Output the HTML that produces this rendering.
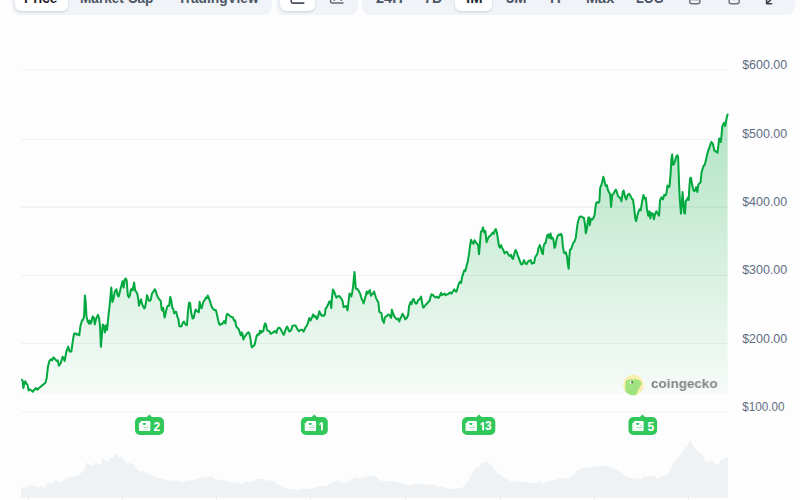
<!DOCTYPE html>
<html><head><meta charset="utf-8"><style>
*{margin:0;padding:0;box-sizing:border-box}
html,body{width:800px;height:500px;overflow:hidden;background:#fdfdfd;font-family:"Liberation Sans",sans-serif}
.grp{position:absolute;top:-30px;background:#f0f3f7;border-radius:8px}
.btn{position:absolute;top:-30px;background:#fff;border-radius:6px;box-shadow:0 1px 2px rgba(16,24,40,0.10),0 1px 3px rgba(16,24,40,0.06)}
.t{position:absolute;transform-origin:0 0;font-weight:700;font-size:14px;line-height:14px;white-space:nowrap;color:#4b5565}
.t.a{color:#1f2430}
svg{position:absolute;left:0;top:0}
.cg{position:absolute;left:650.9px;top:376px;font-weight:700;font-size:13.6px;line-height:16px;color:#818387;will-change:transform;transform-origin:0 0;transform:scaleX(0.99);white-space:nowrap}
</style></head><body>
<div class="grp" style="left:12px;width:260px;height:44.7px"></div>
<div class="btn" style="left:15px;width:52.5px;height:41.2px"></div>
<div class="grp" style="left:275.9px;width:82.1px;height:44.7px"></div>
<div class="btn" style="left:279.6px;width:35.4px;height:41.4px"></div>
<div class="grp" style="left:362.2px;width:432.8px;height:44.6px"></div>
<div class="btn" style="left:455.25px;width:36.75px;height:41.4px"></div>

<div class="t a" style="left:23.77px;top:-9px;transform:scaleX(0.9773)">Price</div>
<div class="t" style="left:80.13px;top:-9px;transform:scaleX(0.9716)">Market Cap</div>
<div class="t" style="left:177.56px;top:-9px;transform:scaleX(0.9808)">TradingView</div>
<div class="t" style="left:376.00px;top:-9px;transform:scaleX(1.0400)">24H</div>
<div class="t" style="left:424.06px;top:-9px;transform:scaleX(1.0200)">7D</div>
<div class="t a" style="left:466.14px;top:-9px;transform:scaleX(1.0643)">lM</div>
<div class="t" style="left:505.70px;top:-9px;transform:scaleX(1.0579)">3M</div>
<div class="t" style="left:550.18px;top:-9px;transform:scaleX(1.0222)">lY</div>
<div class="t" style="left:585.71px;top:-9px;transform:scaleX(1.0385)">Max</div>
<div class="t" style="left:635.89px;top:-9px;transform:scaleX(0.9103)">LOG</div>


<svg width="800" height="500" viewBox="0 0 800 500">
<defs>
<linearGradient id="fg" x1="0" y1="0" x2="0" y2="1">
<stop offset="0" stop-color="#00a83e" stop-opacity="0.30"/>
<stop offset="1" stop-color="#00a83e" stop-opacity="0.025"/>
</linearGradient>
</defs>
<!-- toolbar icons -->
<path d="M291.2 -6 V1.6 Q291.2 3.1 292.7 3.1 H303.8" fill="none" stroke="#4a5062" stroke-width="1.6" stroke-linecap="round"/>
<path d="M330.6 -6 V1.6 Q330.6 3.1 332.1 3.1 H343" fill="none" stroke="#646b7a" stroke-width="1.5" stroke-linecap="round"/>
<path d="M334.3 -3 V1 M341.2 -3 V1" fill="none" stroke="#646b7a" stroke-width="1.3"/>
<rect x="689.7" y="-8" width="10.2" height="11.8" rx="2.3" fill="none" stroke="#6a7284" stroke-width="1.45"/>
<path d="M690.5 0 H699" stroke="#6a7284" stroke-width="0.9" stroke-opacity="0.7"/>
<rect x="729.1" y="-8" width="10.1" height="11.8" rx="2.3" fill="none" stroke="#6a7284" stroke-width="1.45"/>
<path d="M733.8 -4 V0.6" stroke="#8a7f8a" stroke-width="0.9" stroke-opacity="0.7"/>
<path d="M766.6 -2 V3.8 H771.6 M767 3.4 L772.5 -2" fill="none" stroke="#3d4452" stroke-width="1.6" stroke-linecap="round" stroke-linejoin="round"/>

<line x1="21" x2="728" y1="70.00" y2="70.00" stroke="#edf5f0" stroke-width="1"/><line x1="21" x2="728" y1="206.80" y2="206.80" stroke="#edf5f0" stroke-width="1"/><line x1="21" x2="728" y1="411.90" y2="411.90" stroke="#edf5f0" stroke-width="1"/><line x1="21" x2="728" y1="139.5" y2="139.5" stroke="#eff1f5" stroke-width="1"/><line x1="21" x2="728" y1="207.5" y2="207.5" stroke="#eff1f5" stroke-width="1"/><line x1="21" x2="728" y1="275.5" y2="275.5" stroke="#eff1f5" stroke-width="1"/><line x1="21" x2="728" y1="343.5" y2="343.5" stroke="#eff1f5" stroke-width="1"/>
<path d="M21 497.8 L21 487.7 L22 487.7 L22 487.6 L23 487.6 L23 488.1 L24 488.1 L24 487.6 L25 487.6 L25 487.6 L26 487.6 L26 486.8 L27 486.8 L27 486.0 L28 486.0 L28 486.0 L29 486.0 L29 485.1 L30 485.1 L30 485.3 L31 485.3 L31 485.0 L32 485.0 L32 485.2 L33 485.2 L33 485.8 L34 485.8 L34 486.6 L35 486.6 L35 486.3 L36 486.3 L36 486.7 L37 486.7 L37 487.4 L38 487.4 L38 487.6 L39 487.6 L39 487.0 L40 487.0 L40 486.3 L41 486.3 L41 486.1 L42 486.1 L42 486.3 L43 486.3 L43 487.8 L44 487.8 L44 486.9 L45 486.9 L45 485.9 L46 485.9 L46 484.5 L47 484.5 L47 483.6 L48 483.6 L48 483.9 L49 483.9 L49 483.6 L50 483.6 L50 483.8 L51 483.8 L51 483.7 L52 483.7 L52 483.2 L53 483.2 L53 482.7 L54 482.7 L54 480.4 L55 480.4 L55 480.2 L56 480.2 L56 480.6 L57 480.6 L57 481.2 L58 481.2 L58 480.4 L59 480.4 L59 481.3 L60 481.3 L60 482.2 L61 482.2 L61 482.4 L62 482.4 L62 480.9 L63 480.9 L63 480.4 L64 480.4 L64 479.6 L65 479.6 L65 478.8 L66 478.8 L66 478.8 L67 478.8 L67 478.3 L68 478.3 L68 478.1 L69 478.1 L69 476.9 L70 476.9 L70 475.8 L71 475.8 L71 477.4 L72 477.4 L72 477.0 L73 477.0 L73 477.1 L74 477.1 L74 476.9 L75 476.9 L75 475.8 L76 475.8 L76 475.7 L77 475.7 L77 474.9 L78 474.9 L78 475.1 L79 475.1 L79 474.6 L80 474.6 L80 473.6 L81 473.6 L81 472.9 L82 472.9 L82 471.6 L83 471.6 L83 471.4 L84 471.4 L84 468.6 L85 468.6 L85 464.8 L86 464.8 L86 462.8 L87 462.8 L87 462.8 L88 462.8 L88 464.3 L89 464.3 L89 465.0 L90 465.0 L90 466.2 L91 466.2 L91 465.2 L92 465.2 L92 465.5 L93 465.5 L93 465.1 L94 465.1 L94 462.5 L95 462.5 L95 463.0 L96 463.0 L96 463.3 L97 463.3 L97 464.4 L98 464.4 L98 464.9 L99 464.9 L99 464.5 L100 464.5 L100 464.3 L101 464.3 L101 461.4 L102 461.4 L102 458.7 L103 458.7 L103 458.3 L104 458.3 L104 459.9 L105 459.9 L105 459.9 L106 459.9 L106 460.5 L107 460.5 L107 461.0 L108 461.0 L108 461.7 L109 461.7 L109 459.9 L110 459.9 L110 457.9 L111 457.9 L111 457.4 L112 457.4 L112 457.1 L113 457.1 L113 456.6 L114 456.6 L114 456.0 L115 456.0 L115 454.7 L116 454.7 L116 454.2 L117 454.2 L117 455.1 L118 455.1 L118 457.1 L119 457.1 L119 457.7 L120 457.7 L120 457.0 L121 457.0 L121 456.7 L122 456.7 L122 457.7 L123 457.7 L123 458.7 L124 458.7 L124 460.0 L125 460.0 L125 461.8 L126 461.8 L126 462.4 L127 462.4 L127 462.4 L128 462.4 L128 462.9 L129 462.9 L129 462.9 L130 462.9 L130 463.2 L131 463.2 L131 463.8 L132 463.8 L132 464.1 L133 464.1 L133 464.6 L134 464.6 L134 465.9 L135 465.9 L135 467.4 L136 467.4 L136 468.1 L137 468.1 L137 469.9 L138 469.9 L138 470.7 L139 470.7 L139 471.5 L140 471.5 L140 471.7 L141 471.7 L141 471.1 L142 471.1 L142 471.0 L143 471.0 L143 470.9 L144 470.9 L144 471.9 L145 471.9 L145 471.8 L146 471.8 L146 472.3 L147 472.3 L147 473.0 L148 473.0 L148 473.5 L149 473.5 L149 474.3 L150 474.3 L150 474.7 L151 474.7 L151 475.2 L152 475.2 L152 475.8 L153 475.8 L153 476.2 L154 476.2 L154 476.8 L155 476.8 L155 476.8 L156 476.8 L156 478.0 L157 478.0 L157 478.0 L158 478.0 L158 477.8 L159 477.8 L159 478.1 L160 478.1 L160 478.5 L161 478.5 L161 478.7 L162 478.7 L162 478.7 L163 478.7 L163 479.6 L164 479.6 L164 480.0 L165 480.0 L165 479.7 L166 479.7 L166 479.9 L167 479.9 L167 479.7 L168 479.7 L168 480.0 L169 480.0 L169 480.4 L170 480.4 L170 480.4 L171 480.4 L171 481.1 L172 481.1 L172 480.5 L173 480.5 L173 480.4 L174 480.4 L174 481.4 L175 481.4 L175 481.1 L176 481.1 L176 480.8 L177 480.8 L177 481.3 L178 481.3 L178 480.9 L179 480.9 L179 481.4 L180 481.4 L180 481.9 L181 481.9 L181 482.0 L182 482.0 L182 482.2 L183 482.2 L183 481.8 L184 481.8 L184 481.5 L185 481.5 L185 481.1 L186 481.1 L186 481.5 L187 481.5 L187 481.1 L188 481.1 L188 481.2 L189 481.2 L189 480.6 L190 480.6 L190 480.3 L191 480.3 L191 480.6 L192 480.6 L192 480.5 L193 480.5 L193 480.0 L194 480.0 L194 479.7 L195 479.7 L195 479.5 L196 479.5 L196 479.2 L197 479.2 L197 478.5 L198 478.5 L198 478.7 L199 478.7 L199 478.4 L200 478.4 L200 477.9 L201 477.9 L201 477.8 L202 477.8 L202 477.9 L203 477.9 L203 477.6 L204 477.6 L204 477.7 L205 477.7 L205 477.6 L206 477.6 L206 476.7 L207 476.7 L207 476.8 L208 476.8 L208 476.5 L209 476.5 L209 476.3 L210 476.3 L210 475.8 L211 475.8 L211 476.1 L212 476.1 L212 476.9 L213 476.9 L213 477.7 L214 477.7 L214 478.7 L215 478.7 L215 479.5 L216 479.5 L216 479.7 L217 479.7 L217 479.6 L218 479.6 L218 479.5 L219 479.5 L219 479.9 L220 479.9 L220 480.1 L221 480.1 L221 479.5 L222 479.5 L222 480.1 L223 480.1 L223 480.5 L224 480.5 L224 480.5 L225 480.5 L225 480.7 L226 480.7 L226 480.6 L227 480.6 L227 480.4 L228 480.4 L228 481.2 L229 481.2 L229 481.0 L230 481.0 L230 481.8 L231 481.8 L231 482.3 L232 482.3 L232 482.2 L233 482.2 L233 482.8 L234 482.8 L234 483.5 L235 483.5 L235 482.9 L236 482.9 L236 482.2 L237 482.2 L237 482.3 L238 482.3 L238 482.4 L239 482.4 L239 483.5 L240 483.5 L240 484.0 L241 484.0 L241 483.3 L242 483.3 L242 483.3 L243 483.3 L243 483.2 L244 483.2 L244 482.5 L245 482.5 L245 482.0 L246 482.0 L246 482.0 L247 482.0 L247 481.5 L248 481.5 L248 481.3 L249 481.3 L249 482.1 L250 482.1 L250 481.7 L251 481.7 L251 481.4 L252 481.4 L252 481.7 L253 481.7 L253 481.0 L254 481.0 L254 480.9 L255 480.9 L255 479.8 L256 479.8 L256 478.6 L257 478.6 L257 478.4 L258 478.4 L258 478.4 L259 478.4 L259 478.5 L260 478.5 L260 479.0 L261 479.0 L261 478.9 L262 478.9 L262 479.3 L263 479.3 L263 479.3 L264 479.3 L264 480.2 L265 480.2 L265 479.8 L266 479.8 L266 479.9 L267 479.9 L267 480.2 L268 480.2 L268 480.7 L269 480.7 L269 480.3 L270 480.3 L270 481.0 L271 481.0 L271 480.8 L272 480.8 L272 480.9 L273 480.9 L273 481.4 L274 481.4 L274 481.6 L275 481.6 L275 482.9 L276 482.9 L276 483.7 L277 483.7 L277 484.2 L278 484.2 L278 485.3 L279 485.3 L279 485.0 L280 485.0 L280 485.7 L281 485.7 L281 486.5 L282 486.5 L282 486.8 L283 486.8 L283 487.1 L284 487.1 L284 487.8 L285 487.8 L285 488.3 L286 488.3 L286 488.8 L287 488.8 L287 488.3 L288 488.3 L288 488.8 L289 488.8 L289 488.6 L290 488.6 L290 488.7 L291 488.7 L291 489.2 L292 489.2 L292 489.0 L293 489.0 L293 489.1 L294 489.1 L294 489.3 L295 489.3 L295 489.7 L296 489.7 L296 489.7 L297 489.7 L297 489.9 L298 489.9 L298 489.5 L299 489.5 L299 489.2 L300 489.2 L300 489.1 L301 489.1 L301 488.7 L302 488.7 L302 488.6 L303 488.6 L303 488.5 L304 488.5 L304 489.1 L305 489.1 L305 488.9 L306 488.9 L306 489.2 L307 489.2 L307 489.3 L308 489.3 L308 488.7 L309 488.7 L309 488.8 L310 488.8 L310 488.5 L311 488.5 L311 488.3 L312 488.3 L312 488.0 L313 488.0 L313 488.0 L314 488.0 L314 487.9 L315 487.9 L315 487.2 L316 487.2 L316 486.9 L317 486.9 L317 485.9 L318 485.9 L318 486.1 L319 486.1 L319 486.0 L320 486.0 L320 486.0 L321 486.0 L321 485.2 L322 485.2 L322 486.0 L323 486.0 L323 486.1 L324 486.1 L324 485.7 L325 485.7 L325 486.6 L326 486.6 L326 486.9 L327 486.9 L327 485.7 L328 485.7 L328 485.5 L329 485.5 L329 484.1 L330 484.1 L330 483.5 L331 483.5 L331 483.6 L332 483.6 L332 483.2 L333 483.2 L333 482.3 L334 482.3 L334 481.9 L335 481.9 L335 481.0 L336 481.0 L336 480.5 L337 480.5 L337 480.6 L338 480.6 L338 481.0 L339 481.0 L339 481.7 L340 481.7 L340 481.4 L341 481.4 L341 482.4 L342 482.4 L342 483.1 L343 483.1 L343 483.0 L344 483.0 L344 483.3 L345 483.3 L345 483.3 L346 483.3 L346 482.5 L347 482.5 L347 481.5 L348 481.5 L348 482.0 L349 482.0 L349 481.3 L350 481.3 L350 481.0 L351 481.0 L351 479.5 L352 479.5 L352 479.1 L353 479.1 L353 478.3 L354 478.3 L354 478.5 L355 478.5 L355 477.5 L356 477.5 L356 477.1 L357 477.1 L357 477.4 L358 477.4 L358 477.9 L359 477.9 L359 477.9 L360 477.9 L360 477.5 L361 477.5 L361 477.6 L362 477.6 L362 478.2 L363 478.2 L363 477.5 L364 477.5 L364 477.2 L365 477.2 L365 476.3 L366 476.3 L366 476.2 L367 476.2 L367 476.7 L368 476.7 L368 476.2 L369 476.2 L369 475.3 L370 475.3 L370 475.7 L371 475.7 L371 475.2 L372 475.2 L372 475.6 L373 475.6 L373 475.0 L374 475.0 L374 476.2 L375 476.2 L375 476.1 L376 476.1 L376 477.5 L377 477.5 L377 478.0 L378 478.0 L378 479.1 L379 479.1 L379 480.5 L380 480.5 L380 481.4 L381 481.4 L381 480.7 L382 480.7 L382 480.5 L383 480.5 L383 481.0 L384 481.0 L384 481.1 L385 481.1 L385 481.4 L386 481.4 L386 481.6 L387 481.6 L387 481.3 L388 481.3 L388 481.3 L389 481.3 L389 481.2 L390 481.2 L390 481.1 L391 481.1 L391 481.3 L392 481.3 L392 481.0 L393 481.0 L393 481.6 L394 481.6 L394 481.7 L395 481.7 L395 482.1 L396 482.1 L396 481.9 L397 481.9 L397 482.2 L398 482.2 L398 482.1 L399 482.1 L399 483.0 L400 483.0 L400 483.0 L401 483.0 L401 482.9 L402 482.9 L402 483.5 L403 483.5 L403 484.3 L404 484.3 L404 483.8 L405 483.8 L405 484.8 L406 484.8 L406 484.8 L407 484.8 L407 485.1 L408 485.1 L408 485.6 L409 485.6 L409 485.3 L410 485.3 L410 485.2 L411 485.2 L411 484.8 L412 484.8 L412 484.6 L413 484.6 L413 483.7 L414 483.7 L414 484.3 L415 484.3 L415 484.3 L416 484.3 L416 484.4 L417 484.4 L417 484.3 L418 484.3 L418 484.3 L419 484.3 L419 483.9 L420 483.9 L420 483.8 L421 483.8 L421 483.5 L422 483.5 L422 484.2 L423 484.2 L423 483.9 L424 483.9 L424 484.0 L425 484.0 L425 484.2 L426 484.2 L426 485.1 L427 485.1 L427 485.3 L428 485.3 L428 485.1 L429 485.1 L429 484.7 L430 484.7 L430 484.6 L431 484.6 L431 484.6 L432 484.6 L432 484.9 L433 484.9 L433 484.6 L434 484.6 L434 485.1 L435 485.1 L435 485.3 L436 485.3 L436 486.3 L437 486.3 L437 486.6 L438 486.6 L438 486.3 L439 486.3 L439 486.2 L440 486.2 L440 487.0 L441 487.0 L441 486.5 L442 486.5 L442 486.6 L443 486.6 L443 486.5 L444 486.5 L444 487.3 L445 487.3 L445 487.8 L446 487.8 L446 488.2 L447 488.2 L447 488.2 L448 488.2 L448 488.8 L449 488.8 L449 488.5 L450 488.5 L450 488.9 L451 488.9 L451 488.8 L452 488.8 L452 489.1 L453 489.1 L453 488.6 L454 488.6 L454 488.6 L455 488.6 L455 488.8 L456 488.8 L456 488.6 L457 488.6 L457 488.9 L458 488.9 L458 488.6 L459 488.6 L459 488.5 L460 488.5 L460 488.0 L461 488.0 L461 487.7 L462 487.7 L462 487.5 L463 487.5 L463 486.5 L464 486.5 L464 485.7 L465 485.7 L465 485.1 L466 485.1 L466 482.5 L467 482.5 L467 481.6 L468 481.6 L468 480.3 L469 480.3 L469 477.9 L470 477.9 L470 476.5 L471 476.5 L471 474.4 L472 474.4 L472 472.1 L473 472.1 L473 470.6 L474 470.6 L474 469.4 L475 469.4 L475 467.9 L476 467.9 L476 467.8 L477 467.8 L477 467.4 L478 467.4 L478 467.5 L479 467.5 L479 466.1 L480 466.1 L480 463.8 L481 463.8 L481 462.9 L482 462.9 L482 462.6 L483 462.6 L483 462.4 L484 462.4 L484 462.4 L485 462.4 L485 462.0 L486 462.0 L486 462.1 L487 462.1 L487 462.4 L488 462.4 L488 463.1 L489 463.1 L489 463.4 L490 463.4 L490 464.6 L491 464.6 L491 464.8 L492 464.8 L492 466.1 L493 466.1 L493 468.1 L494 468.1 L494 469.7 L495 469.7 L495 470.5 L496 470.5 L496 471.1 L497 471.1 L497 473.2 L498 473.2 L498 474.0 L499 474.0 L499 474.3 L500 474.3 L500 474.8 L501 474.8 L501 475.4 L502 475.4 L502 475.6 L503 475.6 L503 477.2 L504 477.2 L504 477.6 L505 477.6 L505 478.2 L506 478.2 L506 478.9 L507 478.9 L507 479.6 L508 479.6 L508 479.5 L509 479.5 L509 480.5 L510 480.5 L510 481.2 L511 481.2 L511 481.0 L512 481.0 L512 481.3 L513 481.3 L513 481.8 L514 481.8 L514 482.1 L515 482.1 L515 481.9 L516 481.9 L516 481.6 L517 481.6 L517 481.6 L518 481.6 L518 481.0 L519 481.0 L519 480.9 L520 480.9 L520 481.2 L521 481.2 L521 482.0 L522 482.0 L522 481.9 L523 481.9 L523 482.2 L524 482.2 L524 481.7 L525 481.7 L525 481.6 L526 481.6 L526 481.9 L527 481.9 L527 482.5 L528 482.5 L528 482.8 L529 482.8 L529 483.1 L530 483.1 L530 482.9 L531 482.9 L531 483.4 L532 483.4 L532 483.4 L533 483.4 L533 483.2 L534 483.2 L534 482.6 L535 482.6 L535 483.1 L536 483.1 L536 482.0 L537 482.0 L537 482.5 L538 482.5 L538 482.1 L539 482.1 L539 480.9 L540 480.9 L540 481.4 L541 481.4 L541 482.1 L542 482.1 L542 483.1 L543 483.1 L543 483.9 L544 483.9 L544 482.8 L545 482.8 L545 482.0 L546 482.0 L546 482.3 L547 482.3 L547 481.1 L548 481.1 L548 481.2 L549 481.2 L549 480.5 L550 480.5 L550 480.6 L551 480.6 L551 481.0 L552 481.0 L552 480.3 L553 480.3 L553 481.1 L554 481.1 L554 480.4 L555 480.4 L555 480.0 L556 480.0 L556 479.1 L557 479.1 L557 478.2 L558 478.2 L558 478.7 L559 478.7 L559 478.2 L560 478.2 L560 477.9 L561 477.9 L561 478.1 L562 478.1 L562 478.9 L563 478.9 L563 478.9 L564 478.9 L564 478.6 L565 478.6 L565 478.2 L566 478.2 L566 478.2 L567 478.2 L567 478.0 L568 478.0 L568 478.3 L569 478.3 L569 477.1 L570 477.1 L570 477.4 L571 477.4 L571 477.1 L572 477.1 L572 475.5 L573 475.5 L573 475.1 L574 475.1 L574 473.7 L575 473.7 L575 472.9 L576 472.9 L576 471.3 L577 471.3 L577 470.4 L578 470.4 L578 469.6 L579 469.6 L579 469.6 L580 469.6 L580 468.8 L581 468.8 L581 468.3 L582 468.3 L582 468.1 L583 468.1 L583 467.7 L584 467.7 L584 467.4 L585 467.4 L585 467.4 L586 467.4 L586 468.1 L587 468.1 L587 467.4 L588 467.4 L588 468.0 L589 468.0 L589 467.2 L590 467.2 L590 467.0 L591 467.0 L591 467.1 L592 467.1 L592 466.6 L593 466.6 L593 466.5 L594 466.5 L594 466.8 L595 466.8 L595 466.5 L596 466.5 L596 466.3 L597 466.3 L597 466.0 L598 466.0 L598 466.2 L599 466.2 L599 466.1 L600 466.1 L600 465.6 L601 465.6 L601 465.8 L602 465.8 L602 465.3 L603 465.3 L603 466.1 L604 466.1 L604 466.0 L605 466.0 L605 466.5 L606 466.5 L606 466.6 L607 466.6 L607 466.4 L608 466.4 L608 466.3 L609 466.3 L609 467.3 L610 467.3 L610 467.0 L611 467.0 L611 468.1 L612 468.1 L612 468.4 L613 468.4 L613 468.5 L614 468.5 L614 469.2 L615 469.2 L615 469.6 L616 469.6 L616 469.3 L617 469.3 L617 470.0 L618 470.0 L618 470.3 L619 470.3 L619 471.6 L620 471.6 L620 472.2 L621 472.2 L621 472.3 L622 472.3 L622 473.0 L623 473.0 L623 474.5 L624 474.5 L624 476.1 L625 476.1 L625 475.9 L626 475.9 L626 475.9 L627 475.9 L627 476.9 L628 476.9 L628 477.2 L629 477.2 L629 476.9 L630 476.9 L630 477.3 L631 477.3 L631 478.0 L632 478.0 L632 478.6 L633 478.6 L633 478.6 L634 478.6 L634 478.0 L635 478.0 L635 478.1 L636 478.1 L636 478.3 L637 478.3 L637 478.7 L638 478.7 L638 479.2 L639 479.2 L639 479.1 L640 479.1 L640 478.9 L641 478.9 L641 478.1 L642 478.1 L642 477.2 L643 477.2 L643 476.8 L644 476.8 L644 476.6 L645 476.6 L645 476.2 L646 476.2 L646 476.2 L647 476.2 L647 476.7 L648 476.7 L648 475.7 L649 475.7 L649 476.1 L650 476.1 L650 476.3 L651 476.3 L651 476.6 L652 476.6 L652 476.1 L653 476.1 L653 476.4 L654 476.4 L654 476.6 L655 476.6 L655 477.2 L656 477.2 L656 478.1 L657 478.1 L657 478.9 L658 478.9 L658 478.2 L659 478.2 L659 477.6 L660 477.6 L660 476.3 L661 476.3 L661 476.0 L662 476.0 L662 476.3 L663 476.3 L663 476.2 L664 476.2 L664 475.5 L665 475.5 L665 475.4 L666 475.4 L666 474.6 L667 474.6 L667 474.8 L668 474.8 L668 473.3 L669 473.3 L669 471.1 L670 471.1 L670 469.2 L671 469.2 L671 467.3 L672 467.3 L672 464.8 L673 464.8 L673 463.0 L674 463.0 L674 461.8 L675 461.8 L675 460.9 L676 460.9 L676 459.9 L677 459.9 L677 459.1 L678 459.1 L678 457.8 L679 457.8 L679 456.5 L680 456.5 L680 454.9 L681 454.9 L681 452.8 L682 452.8 L682 451.5 L683 451.5 L683 449.7 L684 449.7 L684 449.2 L685 449.2 L685 447.6 L686 447.6 L686 447.3 L687 447.3 L687 446.0 L688 446.0 L688 443.7 L689 443.7 L689 441.5 L690 441.5 L690 441.1 L691 441.1 L691 442.7 L692 442.7 L692 444.7 L693 444.7 L693 445.9 L694 445.9 L694 447.5 L695 447.5 L695 449.3 L696 449.3 L696 450.4 L697 450.4 L697 451.2 L698 451.2 L698 452.0 L699 452.0 L699 453.0 L700 453.0 L700 453.0 L701 453.0 L701 453.9 L702 453.9 L702 455.6 L703 455.6 L703 458.1 L704 458.1 L704 459.7 L705 459.7 L705 461.9 L706 461.9 L706 462.3 L707 462.3 L707 461.7 L708 461.7 L708 461.2 L709 461.2 L709 461.2 L710 461.2 L710 460.2 L711 460.2 L711 460.3 L712 460.3 L712 461.0 L713 461.0 L713 462.5 L714 462.5 L714 463.7 L715 463.7 L715 464.0 L716 464.0 L716 464.2 L717 464.2 L717 464.4 L718 464.4 L718 464.0 L719 464.0 L719 462.3 L720 462.3 L720 460.9 L721 460.9 L721 460.0 L722 460.0 L722 459.4 L723 459.4 L723 459.1 L724 459.1 L724 458.1 L725 458.1 L725 458.4 L726 458.4 L726 458.0 L727 458.0 L727 457.5 L728 457.5 L728 497.8 Z" fill="#eff2f5"/>
<line x1="28.5" x2="28.5" y1="497.5" y2="500" stroke="#eceef2" stroke-width="1"/><line x1="122.5" x2="122.5" y1="497.5" y2="500" stroke="#eceef2" stroke-width="1"/><line x1="216.5" x2="216.5" y1="497.5" y2="500" stroke="#eceef2" stroke-width="1"/><line x1="310.5" x2="310.5" y1="497.5" y2="500" stroke="#eceef2" stroke-width="1"/><line x1="405.5" x2="405.5" y1="497.5" y2="500" stroke="#eceef2" stroke-width="1"/><line x1="500.5" x2="500.5" y1="497.5" y2="500" stroke="#eceef2" stroke-width="1"/><line x1="594.5" x2="594.5" y1="497.5" y2="500" stroke="#eceef2" stroke-width="1"/><line x1="688.5" x2="688.5" y1="497.5" y2="500" stroke="#eceef2" stroke-width="1"/>
<path d="M21.9 379.7 L22.6 380.8 L23.4 388 L24.6 382 L25.4 381.4 L26.4 383.8 L27.4 384.4 L28.6 390.4 L29.8 389.2 L31 390.4 L32.2 391 L33 391.8 L34.2 389.8 L36 388 L37.2 389.8 L39 388 L42 385.6 L45.6 382.6 L46.8 377.2 L48 366.4 L49.4 361 L51 359.2 L52.2 360.4 L53.4 357.4 L55.2 359.2 L56.6 361 L57.8 360.4 L58.8 365.8 L60.6 363.4 L62.6 356.8 L63.6 358 L64.6 361 L66.6 350.8 L68.2 346.6 L69.6 351.4 L71.4 351.4 L72.9 340.4 L74 334 L75.6 333.2 L76.7 334.8 L78 334 L79.3 335.3 L80.4 326 L82 320.4 L83.1 319.6 L84.1 316.4 L84.9 295.6 L85.7 302 L86.5 316.4 L87.6 321.2 L88.9 323.6 L89.5 320.4 L90.8 323.6 L91.6 321.2 L92.7 316.4 L94 318 L94.8 324.4 L95.9 319.6 L97.2 316.4 L98 314.8 L99.1 318 L100.1 327.6 L100.9 346.8 L102 334 L102.8 324.4 L103.9 326 L104.9 332.4 L106 325.2 L107.1 330 L108.4 316.4 L110 302 L111.3 287.6 L112.4 302 L113.5 298.8 L114.8 291.6 L116.4 289.2 L117.7 295.6 L118.8 296.4 L120.4 289.2 L121.5 285.2 L122.5 281.2 L123.6 287.6 L124.7 279.6 L125.7 278.5 L126.7 280.5 L127.8 295.2 L128.9 297.3 L129.9 295.2 L130.9 289.6 L132 288.9 L132.7 290.3 L134.1 282.6 L135.1 290.3 L136.2 291.7 L137.3 293.8 L138.3 299.4 L139 305.7 L140.1 301.5 L141.1 299.4 L142.1 304.3 L143.2 306.4 L144.3 308.5 L145.3 306.4 L146 302.2 L147 295.2 L147.8 297.3 L148.8 300.8 L149.9 300.8 L150.9 299.4 L151.9 293.8 L153 292.1 L154 291 L154.8 289.2 L155.8 291 L156.9 295.2 L157.9 297.3 L159.3 299.4 L160.7 300.8 L161.6 309.2 L162.5 310.6 L163.2 307.8 L163.9 312.7 L164.6 317.6 L165.6 313.4 L167 307.1 L168.1 305.7 L169.2 305.7 L170.2 296.9 L171.2 300.1 L172.3 307.8 L173.3 309.2 L174.2 313.4 L175.3 311.7 L176.3 312 L177.4 316.9 L178.4 319 L179.3 326 L180.2 326.4 L181.4 326.3 L182.8 322.8 L183.9 321.6 L184.9 323.5 L185.9 324.9 L187 324.9 L188.1 310.2 L189.1 302.5 L190.1 303.2 L191.2 313 L192.6 318.6 L193.7 317.9 L194.7 313 L195.7 309.5 L196.8 310.9 L197.9 311.6 L198.9 312.3 L199.6 301.8 L200.6 307.4 L201.7 308.1 L202.7 303.9 L203.8 301.1 L204.9 299.7 L205.9 297.6 L206.9 298.3 L207.7 295.5 L208.7 297.6 L209.7 300.4 L210.8 303.9 L211.9 307.1 L213.1 308.8 L214.3 309.9 L215.7 309.9 L216.6 313 L217.8 318.6 L218.9 323.5 L219.9 324.9 L220.8 323.9 L222 324.2 L223.1 322.5 L224.1 321.1 L224.8 322.8 L225.5 323.5 L226.4 315.8 L227.3 313.7 L228.3 314.7 L229.2 315.1 L230.3 316.5 L231.5 316.9 L232.9 317.4 L233.8 320 L234.8 321.4 L235.2 320.4 L236.2 326.4 L237.2 327.6 L238 328.2 L238.8 329.4 L239.8 332.4 L240.8 335.4 L241.6 332.4 L242.4 333.6 L243.4 339.6 L244.4 337.2 L245.6 335.4 L247 333.6 L248.4 332.2 L249.4 333.6 L250.4 338.4 L251.2 344.4 L252 347.4 L253 346.2 L254.2 345.6 L255.2 342.6 L256 338.4 L256.8 335.4 L257.8 334.2 L258.8 334.8 L259.6 332.4 L260.2 330.6 L260.8 333 L261.6 331.2 L262.6 331.8 L263.4 330.6 L264.4 325.2 L265.2 323.4 L266 324.6 L266.8 328.8 L267.6 330.6 L268.6 331 L269.6 331.4 L270.4 333.6 L271.2 333.8 L272.2 333 L273.2 332.2 L274 331.6 L274.8 331 L275.6 331.8 L276.4 333 L277 330.6 L277.6 328.8 L278.4 327.8 L279.4 327.8 L280.4 328.8 L281.6 331 L282.8 333.4 L283.6 334.8 L284.4 333.6 L285.4 330 L286.4 327.6 L287.2 326.6 L288 328.2 L288.8 331 L289.6 331.4 L290.4 331 L291.3 329.6 L292.4 325.9 L294 325.6 L295.6 325.6 L297.2 328.8 L298.8 331.2 L300.4 330 L302 329.6 L303.6 331.7 L305.2 328 L306.8 325.6 L307.9 323.2 L309.2 317.9 L310.5 320.5 L311.6 318.4 L313.2 314.4 L314.3 316.8 L315.6 316 L316.9 319.2 L318 316.8 L319.3 311.2 L320.4 313.6 L321.7 315.7 L322.8 315.2 L323.9 316 L324.9 314.4 L325.5 308.8 L326.8 307.2 L328.1 304.5 L329.2 301.6 L330.3 301.3 L331.3 308 L331.9 298.4 L332.9 289.6 L334 291.2 L335.1 294.4 L336.4 297.6 L337.7 296.5 L339.3 296 L340.9 298.1 L342.5 300.8 L343.6 307.2 L344.7 306.4 L346.2 306.1 L347.5 310.3 L348.5 302 L349.5 293.6 L350.6 294.3 L351.3 296.4 L352.3 292.2 L353.1 286.6 L353.7 279.6 L354.5 271.9 L355.1 279.6 L355.8 288.7 L356.9 288.7 L357.9 289.4 L359 291.5 L360.1 293.6 L361.1 297.1 L362.1 299.9 L362.9 300.6 L363.6 303.4 L364.6 299.9 L365.7 295.7 L366.7 291.5 L367.7 293.6 L368.8 291.5 L369.9 290.1 L370.9 295.7 L371.9 294.3 L373 293.6 L374.1 291.5 L375.1 295 L376 297.8 L377.2 300.6 L378.3 302 L379.3 311.7 L380.2 312.4 L381.4 313.1 L382.5 320.1 L383.9 322.9 L384.9 317.3 L385.8 316.6 L387 315.9 L388.1 314.5 L389.5 315.2 L390.5 317.1 L391.2 318 L391.9 309.7 L392.8 312.4 L394 315.9 L395.1 317.3 L396 318.7 L397 319.4 L398.1 318.5 L399.3 321.5 L400.2 318.7 L401.1 317.3 L402.5 313.8 L403.9 316 L405.3 319.4 L406.7 318 L408.1 315.2 L409.1 306.2 L410.5 302 L411.5 304.1 L412.6 299.9 L413.6 298.9 L414.7 302 L415.7 303.6 L416.8 303.4 L417.9 300.6 L418.9 299.4 L419.9 299.2 L421 296.6 L422 302 L423.1 307.6 L424.1 306.9 L425.2 305.5 L426.3 304.1 L427.3 303.4 L428.3 301.7 L429.4 301.3 L430.5 297.1 L431.5 294.3 L432.9 295 L434.3 296.6 L435.7 297.5 L437.1 296.6 L438.5 298 L439.9 295.7 L441 292.9 L442 295.2 L443.1 294.3 L444.5 293.6 L445.5 295.2 L446.4 294.7 L447.6 294.3 L448.7 293.6 L450.1 292.4 L451.5 293.6 L452.9 291.5 L454.3 289.4 L455.2 290.8 L456.3 291.8 L457.4 288.6 L458.5 284.6 L459.8 281.9 L461.1 283 L462.2 276.6 L463.3 273.4 L464.3 270.2 L465.4 271 L466.5 266.2 L467.8 261.4 L469.1 253.4 L470.2 244.6 L471 239.8 L472.3 243 L473.4 243.8 L474.5 240.3 L475.8 242.2 L477.1 243.8 L478.2 245.4 L479 254.2 L479.8 245.4 L480.9 231.8 L481.9 231 L483 227.5 L484.1 232.6 L485.4 231 L486.5 242.2 L487.8 239 L488.9 236.6 L490.2 235.8 L491.5 234.2 L492.6 232.6 L493.7 233.9 L495 230.2 L495.8 229.1 L496.9 232.6 L497.9 239 L499 246.2 L500.1 247.8 L501.1 245.1 L502.2 247.8 L503.3 250.2 L504.6 253.4 L505.9 252.1 L507 251.8 L508.1 254.2 L509.4 255.8 L510.7 256 L511.1 254.8 L512.1 258.3 L513.1 259 L514.2 254.1 L515.6 249.9 L516.7 252 L517.7 255.5 L518.7 257.6 L519.8 261 L521.2 264.3 L522.6 264.3 L524 260.1 L525.1 262.9 L526.5 264.3 L527.9 261.7 L529.3 260.6 L530.7 260.1 L531.7 263.8 L532.8 262.9 L534.1 263.1 L535.2 257.3 L536.3 255.5 L537.3 254.1 L538.4 248.5 L539.7 245 L540.8 247.8 L541.9 252.7 L542.9 254.1 L543.6 246.4 L544.7 243.3 L545.7 242.9 L546.6 238 L547.5 234.9 L548.5 234.5 L549.4 238 L550.6 233.5 L551.3 238.7 L552.2 237.3 L553.4 239.4 L554.5 247.8 L555.5 245.7 L556.4 240.1 L557.6 235.9 L559 234.5 L560.1 235.2 L561 233.8 L562 235.9 L562.9 246.4 L563.8 252 L564.8 253.4 L565.9 252.2 L567.1 256.9 L568 265.2 L568.7 268.7 L569.4 256.2 L570 249.9 L571.1 249.2 L572.2 246 L573.3 242.8 L574.6 241.2 L575.9 237.2 L577 227.6 L578.1 221.2 L579.4 217.2 L580.7 216.4 L582.3 217.2 L583.9 218 L585 224.4 L585.8 233.2 L587.1 227.6 L588.2 218 L589 217.2 L589.8 225.2 L590.9 218.8 L592.2 219.6 L593.5 218 L594.6 214.8 L595.4 207.6 L596.2 202.8 L597.3 202 L598.6 202.8 L599.4 201.2 L600.2 187.6 L601 186 L602.1 182.5 L603.4 176.7 L604.7 182 L605.8 186 L606.9 185.2 L607.9 190 L609 192.4 L610.1 194 L611.1 206.8 L612.2 194.8 L613.3 194 L614.6 191.6 L615.9 189.5 L617 192.4 L618.1 196.4 L619.4 197.2 L620.7 199 L621.4 201.3 L622.7 192.3 L623.6 190.5 L625 196.8 L626.3 199.5 L627.6 195 L629 193.7 L630.5 195.9 L631.7 198.6 L633 199.5 L634.1 207.6 L635.3 218.4 L636.2 221.1 L637.7 213.9 L639.5 209.4 L640.7 210.3 L642 202.2 L643.4 195 L644.7 198.6 L645.8 197.7 L647 209.4 L648.3 215.7 L649.4 211.2 L650.3 218.4 L651.5 213 L652.8 213.9 L653.9 219.3 L655.1 213.9 L656.4 211.2 L657.8 213.9 L659.1 215.7 L660 200.4 L661.4 197.3 L662.9 199.5 L664.1 195 L665.4 195.5 L666.5 193.2 L667.4 185.6 L668.5 187.2 L669.5 186.4 L670.6 173.6 L671.4 159.2 L672.2 154.4 L673 164.8 L673.8 164 L674.9 161.6 L676.2 156.8 L677.3 155.2 L678.1 156.8 L679.1 184.8 L679.9 200.8 L681 213.6 L681.8 203.2 L682.6 192 L683.4 203.2 L684.2 212.8 L685 213.6 L685.8 200.8 L686.9 200 L687.9 197.6 L688.7 200 L689.3 188 L690.1 178.4 L690.9 177.6 L691.9 183.2 L693 188.8 L694.1 191.2 L695.1 190.4 L696.2 187.2 L697.3 192 L698.3 184.8 L699.4 183.2 L700.5 182.4 L701.5 172.8 L702.6 168.8 L703.7 165.6 L704.8 164.8 L706.5 157.6 L707.9 151.6 L709.6 146.8 L711.3 142 L712.7 143.2 L714.4 150.4 L716.1 151.6 L717.5 152.8 L719.2 138.4 L720.9 142 L722.3 126.4 L724 122.8 L725.2 125.9 L726.6 118 L727.6 114.4 L727.6 394 L21.9 394 Z" fill="url(#fg)"/>
<path d="M21.9 379.7 L22.6 380.8 L23.4 388 L24.6 382 L25.4 381.4 L26.4 383.8 L27.4 384.4 L28.6 390.4 L29.8 389.2 L31 390.4 L32.2 391 L33 391.8 L34.2 389.8 L36 388 L37.2 389.8 L39 388 L42 385.6 L45.6 382.6 L46.8 377.2 L48 366.4 L49.4 361 L51 359.2 L52.2 360.4 L53.4 357.4 L55.2 359.2 L56.6 361 L57.8 360.4 L58.8 365.8 L60.6 363.4 L62.6 356.8 L63.6 358 L64.6 361 L66.6 350.8 L68.2 346.6 L69.6 351.4 L71.4 351.4 L72.9 340.4 L74 334 L75.6 333.2 L76.7 334.8 L78 334 L79.3 335.3 L80.4 326 L82 320.4 L83.1 319.6 L84.1 316.4 L84.9 295.6 L85.7 302 L86.5 316.4 L87.6 321.2 L88.9 323.6 L89.5 320.4 L90.8 323.6 L91.6 321.2 L92.7 316.4 L94 318 L94.8 324.4 L95.9 319.6 L97.2 316.4 L98 314.8 L99.1 318 L100.1 327.6 L100.9 346.8 L102 334 L102.8 324.4 L103.9 326 L104.9 332.4 L106 325.2 L107.1 330 L108.4 316.4 L110 302 L111.3 287.6 L112.4 302 L113.5 298.8 L114.8 291.6 L116.4 289.2 L117.7 295.6 L118.8 296.4 L120.4 289.2 L121.5 285.2 L122.5 281.2 L123.6 287.6 L124.7 279.6 L125.7 278.5 L126.7 280.5 L127.8 295.2 L128.9 297.3 L129.9 295.2 L130.9 289.6 L132 288.9 L132.7 290.3 L134.1 282.6 L135.1 290.3 L136.2 291.7 L137.3 293.8 L138.3 299.4 L139 305.7 L140.1 301.5 L141.1 299.4 L142.1 304.3 L143.2 306.4 L144.3 308.5 L145.3 306.4 L146 302.2 L147 295.2 L147.8 297.3 L148.8 300.8 L149.9 300.8 L150.9 299.4 L151.9 293.8 L153 292.1 L154 291 L154.8 289.2 L155.8 291 L156.9 295.2 L157.9 297.3 L159.3 299.4 L160.7 300.8 L161.6 309.2 L162.5 310.6 L163.2 307.8 L163.9 312.7 L164.6 317.6 L165.6 313.4 L167 307.1 L168.1 305.7 L169.2 305.7 L170.2 296.9 L171.2 300.1 L172.3 307.8 L173.3 309.2 L174.2 313.4 L175.3 311.7 L176.3 312 L177.4 316.9 L178.4 319 L179.3 326 L180.2 326.4 L181.4 326.3 L182.8 322.8 L183.9 321.6 L184.9 323.5 L185.9 324.9 L187 324.9 L188.1 310.2 L189.1 302.5 L190.1 303.2 L191.2 313 L192.6 318.6 L193.7 317.9 L194.7 313 L195.7 309.5 L196.8 310.9 L197.9 311.6 L198.9 312.3 L199.6 301.8 L200.6 307.4 L201.7 308.1 L202.7 303.9 L203.8 301.1 L204.9 299.7 L205.9 297.6 L206.9 298.3 L207.7 295.5 L208.7 297.6 L209.7 300.4 L210.8 303.9 L211.9 307.1 L213.1 308.8 L214.3 309.9 L215.7 309.9 L216.6 313 L217.8 318.6 L218.9 323.5 L219.9 324.9 L220.8 323.9 L222 324.2 L223.1 322.5 L224.1 321.1 L224.8 322.8 L225.5 323.5 L226.4 315.8 L227.3 313.7 L228.3 314.7 L229.2 315.1 L230.3 316.5 L231.5 316.9 L232.9 317.4 L233.8 320 L234.8 321.4 L235.2 320.4 L236.2 326.4 L237.2 327.6 L238 328.2 L238.8 329.4 L239.8 332.4 L240.8 335.4 L241.6 332.4 L242.4 333.6 L243.4 339.6 L244.4 337.2 L245.6 335.4 L247 333.6 L248.4 332.2 L249.4 333.6 L250.4 338.4 L251.2 344.4 L252 347.4 L253 346.2 L254.2 345.6 L255.2 342.6 L256 338.4 L256.8 335.4 L257.8 334.2 L258.8 334.8 L259.6 332.4 L260.2 330.6 L260.8 333 L261.6 331.2 L262.6 331.8 L263.4 330.6 L264.4 325.2 L265.2 323.4 L266 324.6 L266.8 328.8 L267.6 330.6 L268.6 331 L269.6 331.4 L270.4 333.6 L271.2 333.8 L272.2 333 L273.2 332.2 L274 331.6 L274.8 331 L275.6 331.8 L276.4 333 L277 330.6 L277.6 328.8 L278.4 327.8 L279.4 327.8 L280.4 328.8 L281.6 331 L282.8 333.4 L283.6 334.8 L284.4 333.6 L285.4 330 L286.4 327.6 L287.2 326.6 L288 328.2 L288.8 331 L289.6 331.4 L290.4 331 L291.3 329.6 L292.4 325.9 L294 325.6 L295.6 325.6 L297.2 328.8 L298.8 331.2 L300.4 330 L302 329.6 L303.6 331.7 L305.2 328 L306.8 325.6 L307.9 323.2 L309.2 317.9 L310.5 320.5 L311.6 318.4 L313.2 314.4 L314.3 316.8 L315.6 316 L316.9 319.2 L318 316.8 L319.3 311.2 L320.4 313.6 L321.7 315.7 L322.8 315.2 L323.9 316 L324.9 314.4 L325.5 308.8 L326.8 307.2 L328.1 304.5 L329.2 301.6 L330.3 301.3 L331.3 308 L331.9 298.4 L332.9 289.6 L334 291.2 L335.1 294.4 L336.4 297.6 L337.7 296.5 L339.3 296 L340.9 298.1 L342.5 300.8 L343.6 307.2 L344.7 306.4 L346.2 306.1 L347.5 310.3 L348.5 302 L349.5 293.6 L350.6 294.3 L351.3 296.4 L352.3 292.2 L353.1 286.6 L353.7 279.6 L354.5 271.9 L355.1 279.6 L355.8 288.7 L356.9 288.7 L357.9 289.4 L359 291.5 L360.1 293.6 L361.1 297.1 L362.1 299.9 L362.9 300.6 L363.6 303.4 L364.6 299.9 L365.7 295.7 L366.7 291.5 L367.7 293.6 L368.8 291.5 L369.9 290.1 L370.9 295.7 L371.9 294.3 L373 293.6 L374.1 291.5 L375.1 295 L376 297.8 L377.2 300.6 L378.3 302 L379.3 311.7 L380.2 312.4 L381.4 313.1 L382.5 320.1 L383.9 322.9 L384.9 317.3 L385.8 316.6 L387 315.9 L388.1 314.5 L389.5 315.2 L390.5 317.1 L391.2 318 L391.9 309.7 L392.8 312.4 L394 315.9 L395.1 317.3 L396 318.7 L397 319.4 L398.1 318.5 L399.3 321.5 L400.2 318.7 L401.1 317.3 L402.5 313.8 L403.9 316 L405.3 319.4 L406.7 318 L408.1 315.2 L409.1 306.2 L410.5 302 L411.5 304.1 L412.6 299.9 L413.6 298.9 L414.7 302 L415.7 303.6 L416.8 303.4 L417.9 300.6 L418.9 299.4 L419.9 299.2 L421 296.6 L422 302 L423.1 307.6 L424.1 306.9 L425.2 305.5 L426.3 304.1 L427.3 303.4 L428.3 301.7 L429.4 301.3 L430.5 297.1 L431.5 294.3 L432.9 295 L434.3 296.6 L435.7 297.5 L437.1 296.6 L438.5 298 L439.9 295.7 L441 292.9 L442 295.2 L443.1 294.3 L444.5 293.6 L445.5 295.2 L446.4 294.7 L447.6 294.3 L448.7 293.6 L450.1 292.4 L451.5 293.6 L452.9 291.5 L454.3 289.4 L455.2 290.8 L456.3 291.8 L457.4 288.6 L458.5 284.6 L459.8 281.9 L461.1 283 L462.2 276.6 L463.3 273.4 L464.3 270.2 L465.4 271 L466.5 266.2 L467.8 261.4 L469.1 253.4 L470.2 244.6 L471 239.8 L472.3 243 L473.4 243.8 L474.5 240.3 L475.8 242.2 L477.1 243.8 L478.2 245.4 L479 254.2 L479.8 245.4 L480.9 231.8 L481.9 231 L483 227.5 L484.1 232.6 L485.4 231 L486.5 242.2 L487.8 239 L488.9 236.6 L490.2 235.8 L491.5 234.2 L492.6 232.6 L493.7 233.9 L495 230.2 L495.8 229.1 L496.9 232.6 L497.9 239 L499 246.2 L500.1 247.8 L501.1 245.1 L502.2 247.8 L503.3 250.2 L504.6 253.4 L505.9 252.1 L507 251.8 L508.1 254.2 L509.4 255.8 L510.7 256 L511.1 254.8 L512.1 258.3 L513.1 259 L514.2 254.1 L515.6 249.9 L516.7 252 L517.7 255.5 L518.7 257.6 L519.8 261 L521.2 264.3 L522.6 264.3 L524 260.1 L525.1 262.9 L526.5 264.3 L527.9 261.7 L529.3 260.6 L530.7 260.1 L531.7 263.8 L532.8 262.9 L534.1 263.1 L535.2 257.3 L536.3 255.5 L537.3 254.1 L538.4 248.5 L539.7 245 L540.8 247.8 L541.9 252.7 L542.9 254.1 L543.6 246.4 L544.7 243.3 L545.7 242.9 L546.6 238 L547.5 234.9 L548.5 234.5 L549.4 238 L550.6 233.5 L551.3 238.7 L552.2 237.3 L553.4 239.4 L554.5 247.8 L555.5 245.7 L556.4 240.1 L557.6 235.9 L559 234.5 L560.1 235.2 L561 233.8 L562 235.9 L562.9 246.4 L563.8 252 L564.8 253.4 L565.9 252.2 L567.1 256.9 L568 265.2 L568.7 268.7 L569.4 256.2 L570 249.9 L571.1 249.2 L572.2 246 L573.3 242.8 L574.6 241.2 L575.9 237.2 L577 227.6 L578.1 221.2 L579.4 217.2 L580.7 216.4 L582.3 217.2 L583.9 218 L585 224.4 L585.8 233.2 L587.1 227.6 L588.2 218 L589 217.2 L589.8 225.2 L590.9 218.8 L592.2 219.6 L593.5 218 L594.6 214.8 L595.4 207.6 L596.2 202.8 L597.3 202 L598.6 202.8 L599.4 201.2 L600.2 187.6 L601 186 L602.1 182.5 L603.4 176.7 L604.7 182 L605.8 186 L606.9 185.2 L607.9 190 L609 192.4 L610.1 194 L611.1 206.8 L612.2 194.8 L613.3 194 L614.6 191.6 L615.9 189.5 L617 192.4 L618.1 196.4 L619.4 197.2 L620.7 199 L621.4 201.3 L622.7 192.3 L623.6 190.5 L625 196.8 L626.3 199.5 L627.6 195 L629 193.7 L630.5 195.9 L631.7 198.6 L633 199.5 L634.1 207.6 L635.3 218.4 L636.2 221.1 L637.7 213.9 L639.5 209.4 L640.7 210.3 L642 202.2 L643.4 195 L644.7 198.6 L645.8 197.7 L647 209.4 L648.3 215.7 L649.4 211.2 L650.3 218.4 L651.5 213 L652.8 213.9 L653.9 219.3 L655.1 213.9 L656.4 211.2 L657.8 213.9 L659.1 215.7 L660 200.4 L661.4 197.3 L662.9 199.5 L664.1 195 L665.4 195.5 L666.5 193.2 L667.4 185.6 L668.5 187.2 L669.5 186.4 L670.6 173.6 L671.4 159.2 L672.2 154.4 L673 164.8 L673.8 164 L674.9 161.6 L676.2 156.8 L677.3 155.2 L678.1 156.8 L679.1 184.8 L679.9 200.8 L681 213.6 L681.8 203.2 L682.6 192 L683.4 203.2 L684.2 212.8 L685 213.6 L685.8 200.8 L686.9 200 L687.9 197.6 L688.7 200 L689.3 188 L690.1 178.4 L690.9 177.6 L691.9 183.2 L693 188.8 L694.1 191.2 L695.1 190.4 L696.2 187.2 L697.3 192 L698.3 184.8 L699.4 183.2 L700.5 182.4 L701.5 172.8 L702.6 168.8 L703.7 165.6 L704.8 164.8 L706.5 157.6 L707.9 151.6 L709.6 146.8 L711.3 142 L712.7 143.2 L714.4 150.4 L716.1 151.6 L717.5 152.8 L719.2 138.4 L720.9 142 L722.3 126.4 L724 122.8 L725.2 125.9 L726.6 118 L727.6 114.4" fill="none" stroke="#00a83e" stroke-width="2" stroke-linejoin="round" stroke-linecap="round"/>
<g font-size="11.9" fill="#616d83"><text x="742.2" y="69.30" textLength="45.0" lengthAdjust="spacingAndGlyphs">$600.00</text><text x="742.2" y="137.65" textLength="45.0" lengthAdjust="spacingAndGlyphs">$500.00</text><text x="742.2" y="206.00" textLength="45.0" lengthAdjust="spacingAndGlyphs">$400.00</text><text x="742.2" y="274.35" textLength="45.0" lengthAdjust="spacingAndGlyphs">$300.00</text><text x="742.2" y="342.70" textLength="45.0" lengthAdjust="spacingAndGlyphs">$200.00</text><text x="742.2" y="411.05" textLength="42.3" lengthAdjust="spacingAndGlyphs">$100.00</text></g>
<g>
<path d="M146.60 417.3 L149.40 414.4 L152.20 417.3 Z" fill="#31c75a"/>
<rect x="135" y="417" width="29" height="18" rx="5" fill="#31c75a"/>
<g transform="translate(138.90,421.1)">
<rect x="0" y="1.7" width="2.4" height="8.2" rx="0.7" fill="#fff" fill-opacity="0.92"/>
<rect x="1.7" y="0" width="9.7" height="9.9" rx="1.1" fill="#fff"/>
<path d="M3.9 1.8 H7 V2.3 A1.55 1.55 0 0 1 3.9 2.3 Z" fill="#31c75a"/>
<rect x="7.7" y="4" width="1.8" height="0.6" fill="#31c75a" fill-opacity="0.45"/>
<rect x="4.1" y="6" width="5.7" height="0.8" fill="#31c75a" fill-opacity="0.55"/>
<rect x="4.1" y="7.9" width="5.5" height="0.6" fill="#31c75a" fill-opacity="0.3"/>
</g>
<text x="153.40" y="430.5" font-weight="700" font-size="12" fill="#fff">2</text>
</g><g>
<path d="M311.50 417.3 L314.30 414.4 L317.10 417.3 Z" fill="#31c75a"/>
<rect x="300.9" y="417" width="26.9" height="18" rx="5" fill="#31c75a"/>
<g transform="translate(304.70,421.1)">
<rect x="0" y="1.7" width="2.4" height="8.2" rx="0.7" fill="#fff" fill-opacity="0.92"/>
<rect x="1.7" y="0" width="9.7" height="9.9" rx="1.1" fill="#fff"/>
<path d="M3.9 1.8 H7 V2.3 A1.55 1.55 0 0 1 3.9 2.3 Z" fill="#31c75a"/>
<rect x="7.7" y="4" width="1.8" height="0.6" fill="#31c75a" fill-opacity="0.45"/>
<rect x="4.1" y="6" width="5.7" height="0.8" fill="#31c75a" fill-opacity="0.55"/>
<rect x="4.1" y="7.9" width="5.5" height="0.6" fill="#31c75a" fill-opacity="0.3"/>
</g>
<path d="M321.00 422.2 H322.85 V430.3 H321.00 V424.3 L319.30 425.3 V423.8 Z" fill="#fff"/>
</g><g>
<path d="M476.20 417.3 L479.00 414.4 L481.80 417.3 Z" fill="#31c75a"/>
<rect x="462" y="417" width="33.3" height="18" rx="5" fill="#31c75a"/>
<g transform="translate(465.50,421.1)">
<rect x="0" y="1.7" width="2.4" height="8.2" rx="0.7" fill="#fff" fill-opacity="0.92"/>
<rect x="1.7" y="0" width="9.7" height="9.9" rx="1.1" fill="#fff"/>
<path d="M3.9 1.8 H7 V2.3 A1.55 1.55 0 0 1 3.9 2.3 Z" fill="#31c75a"/>
<rect x="7.7" y="4" width="1.8" height="0.6" fill="#31c75a" fill-opacity="0.45"/>
<rect x="4.1" y="6" width="5.7" height="0.8" fill="#31c75a" fill-opacity="0.55"/>
<rect x="4.1" y="7.9" width="5.5" height="0.6" fill="#31c75a" fill-opacity="0.3"/>
</g>
<path d="M482.20 422.2 H484.05 V430.3 H482.20 V424.3 L480.50 425.3 V423.8 Z" fill="#fff"/><text x="485.0" y="430.4" font-weight="700" font-size="12" fill="#fff">3</text>
</g><g>
<path d="M639.70 417.3 L642.50 414.4 L645.30 417.3 Z" fill="#31c75a"/>
<rect x="628.5" y="417" width="28.6" height="18" rx="5" fill="#31c75a"/>
<g transform="translate(632.25,421.1)">
<rect x="0" y="1.7" width="2.4" height="8.2" rx="0.7" fill="#fff" fill-opacity="0.92"/>
<rect x="1.7" y="0" width="9.7" height="9.9" rx="1.1" fill="#fff"/>
<path d="M3.9 1.8 H7 V2.3 A1.55 1.55 0 0 1 3.9 2.3 Z" fill="#31c75a"/>
<rect x="7.7" y="4" width="1.8" height="0.6" fill="#31c75a" fill-opacity="0.45"/>
<rect x="4.1" y="6" width="5.7" height="0.8" fill="#31c75a" fill-opacity="0.55"/>
<rect x="4.1" y="7.9" width="5.5" height="0.6" fill="#31c75a" fill-opacity="0.3"/>
</g>
<text x="647.40" y="430.5" font-weight="700" font-size="12" fill="#fff">5</text>
</g>
<clipPath id="lc"><circle cx="633.4" cy="385" r="10.3"/></clipPath>
<circle cx="633.4" cy="385" r="10.3" fill="#f9eeae"/>
<path clip-path="url(#lc)" d="M625.5 384 C625.5 381.3 626.7 379.7 629.2 379.6 L636.4 379.3 C638.4 379.3 640.2 380.6 641.9 383.2 C639.6 387.2 637.3 391.5 635.6 396.5 L620 396.5 L620 391 L625.4 390.5 Z" fill="#a0e27e"/>
<circle cx="630.9" cy="382.4" r="1.25" fill="#ffffff"/>
<circle cx="632.1" cy="382.3" r="1.1" fill="#5a5e66"/>

</svg>
<div class="cg">coingecko</div>
</body></html>
